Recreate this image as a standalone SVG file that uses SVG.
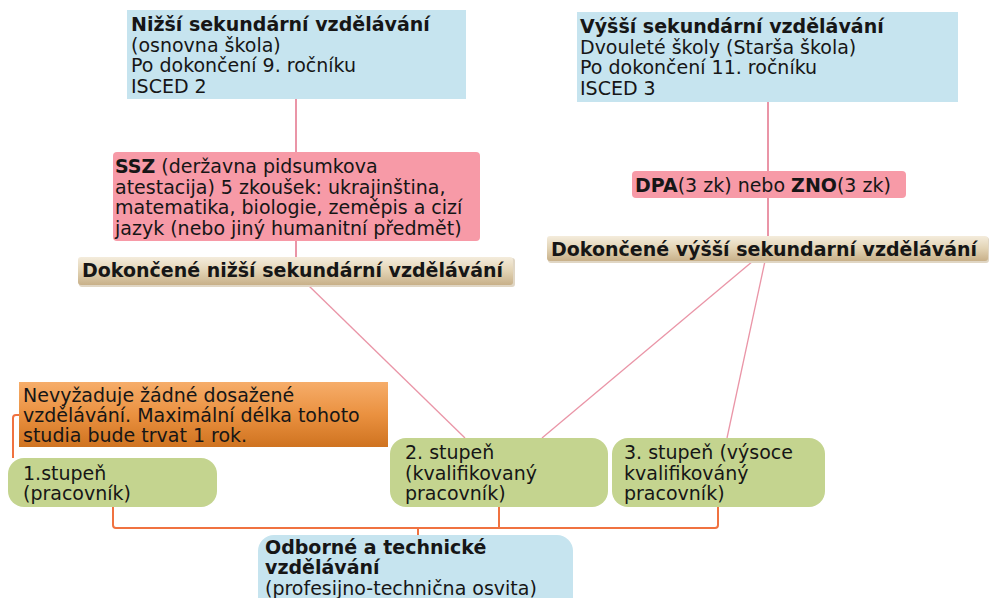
<svg xmlns="http://www.w3.org/2000/svg" width="989" height="598" viewBox="0 0 989 598">
<defs>
<linearGradient id="tan" x1="0" y1="0" x2="0" y2="1">
<stop offset="0" stop-color="#f4ecdc"/>
<stop offset="0.5" stop-color="#e2d3b4"/>
<stop offset="1" stop-color="#c8b089"/>
</linearGradient>
<linearGradient id="orange" x1="0" y1="0" x2="0" y2="1">
<stop offset="0" stop-color="#f6ad6a"/>
<stop offset="0.5" stop-color="#ea9140"/>
<stop offset="1" stop-color="#cf7320"/>
</linearGradient>
</defs>
<style>
text { font-family: "DejaVu Sans", Verdana, sans-serif; font-size: 19px; fill: #161616; }
.b { font-weight: bold; }
.blue { fill: #c6e4ef; }
.pink { fill: #f79aa7; }
.green { fill: #c4d48f; }
.tan { fill: url(#tan); }
.orange { fill: url(#orange); }
.shadow { fill: #e0d6c4; }
.pc { stroke: #ea95a7; fill: none; }
.oc { stroke: #f07240; stroke-width: 2; fill: none; }
</style>

<g id="connectors">
<line class="pc" x1="296" y1="99" x2="296" y2="152" stroke-width="2"/>
<line class="pc" x1="296" y1="241" x2="296" y2="257" stroke-width="2"/>
<line class="pc" x1="768" y1="102" x2="768" y2="171" stroke-width="2"/>
<line class="pc" x1="768" y1="198" x2="768" y2="237" stroke-width="2"/>
<line class="pc" x1="308" y1="285" x2="465" y2="438" stroke-width="1.3"/>
<line class="pc" x1="753" y1="261" x2="542" y2="438" stroke-width="1.3"/>
<line class="pc" x1="765" y1="261" x2="727" y2="438" stroke-width="1.3"/>
<path class="oc" d="M19,415 H16 Q13,415 13,418 V458"/>
<path class="oc" d="M113,507 V525 Q113,528 116,528 H715 Q718,528 718,525 V507"/>
<path class="oc" d="M499,507 V528"/>
<path class="oc" d="M418,528 V535"/>
</g>

<g id="n-nizsi">
<rect class="blue" x="127" y="10" width="339" height="89"/>
<text x="131" y="31" class="b">Nižší sekundární vzdělávání</text>
<text x="131" y="51.5">(osnovna škola)</text>
<text x="131" y="72">Po dokončení 9. ročníku</text>
<text x="131" y="92.5">ISCED 2</text>
</g>

<g id="n-vyssi">
<rect class="blue" x="577" y="12" width="381" height="90"/>
<text x="580" y="33" class="b">Výšší sekundární vzdělávání</text>
<text x="580" y="53.5">Dvouleté školy (Starša škola)</text>
<text x="580" y="74">Po dokončení 11. ročníku</text>
<text x="580" y="94.5">ISCED 3</text>
</g>

<g id="n-ssz">
<rect class="pink" x="113" y="152" width="367" height="89" rx="4"/>
<text x="115" y="173"><tspan class="b">SSZ</tspan> (deržavna pidsumkova</text>
<text x="115" y="193.5">atestacija) 5 zkoušek: ukrajinština,</text>
<text x="115" y="214">matematika, biologie, zeměpis a cizí</text>
<text x="115" y="234.5">jazyk (nebo jiný humanitní předmět)</text>
</g>

<g id="n-dpa">
<rect class="pink" x="632" y="171" width="274" height="27" rx="4"/>
<text x="635" y="191.5"><tspan class="b">DPA</tspan>(3 zk) nebo <tspan class="b">ZNO</tspan>(3 zk)</text>
</g>

<g id="n-dok-nizsi">
<rect class="shadow" x="79" y="258" width="436" height="29" rx="3"/>
<rect class="tan" x="78" y="257" width="435" height="28" rx="3"/>
<text x="82" y="277" class="b">Dokončené nižší sekundární vzdělávání</text>
</g>

<g id="n-dok-vyssi">
<rect class="shadow" x="548" y="237" width="441" height="26" rx="3"/>
<rect class="tan" x="547" y="236" width="441" height="25" rx="3"/>
<text x="551" y="256" class="b">Dokončené výšší sekundarní vzdělávání</text>
</g>

<g id="n-note">
<rect class="orange" x="19" y="382" width="369" height="65"/>
<text x="23" y="401.5">Nevyžaduje žádné dosažené</text>
<text x="23" y="421.5">vzdělávání. Maximální délka tohoto</text>
<text x="23" y="441.5">studia bude trvat 1 rok.</text>
</g>

<g id="n-stupen1">
<rect class="green" x="8" y="458" width="209" height="49" rx="16"/>
<text x="23" y="480">1.stupeň</text>
<text x="23" y="500">(pracovník)</text>
</g>

<g id="n-stupen2">
<rect class="green" x="390" y="438" width="218" height="69" rx="16"/>
<text x="405" y="459">2. stupeň</text>
<text x="405" y="479.5">(kvalifikovaný</text>
<text x="405" y="500">pracovník)</text>
</g>

<g id="n-stupen3">
<rect class="green" x="612" y="438" width="213" height="69" rx="16"/>
<text x="624" y="459">3. stupeň (výsoce</text>
<text x="624" y="479.5">kvalifikováný</text>
<text x="624" y="500">pracovník)</text>
</g>

<g id="n-odborne">
<rect class="blue" x="258" y="535" width="315" height="80" rx="16"/>
<text x="265" y="553.5" class="b">Odborné a technické</text>
<text x="265" y="574" class="b">vzdělávání</text>
<text x="265" y="594.5">(profesijno-technična osvita)</text>
</g>
</svg>
